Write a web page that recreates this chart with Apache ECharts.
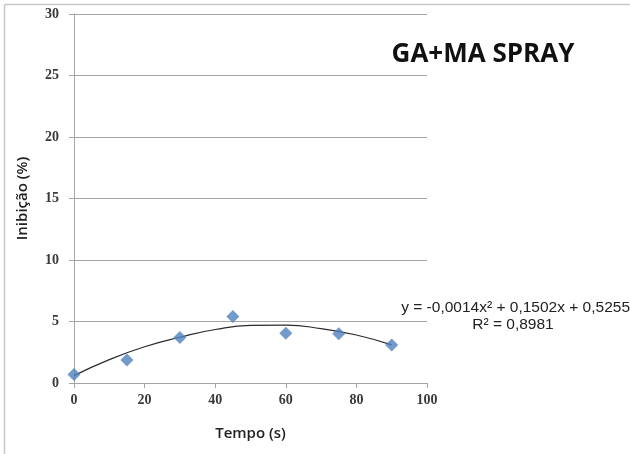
<!DOCTYPE html>
<html>
<head>
<meta charset="utf-8">
<script src="https://cdn.jsdelivr.net/npm/echarts@6/dist/echarts.min.js"></script>
<style>html,body{margin:0;padding:0;background:#fff}#c{width:630px;height:454px}</style>
</head>
<body>
<div id="c"></div>
<script>
// Data
var tempo = [0, 15, 30, 45, 60, 75, 90];
var inibicao = [0.7, 1.87, 3.7, 5.4, 4.04, 4.0, 3.09];
// Trend line as drawn in the picture (sampled by eye)
var trendX = [0, 10, 20, 30, 40, 50, 60, 70, 80, 90];
var trendY = [0.6, 1.9, 2.95, 3.72, 4.35, 4.68, 4.7, 4.42, 3.9, 3.1];
var yTicks = [0, 5, 10, 15, 20, 25, 30];
var xTicks = [0, 20, 40, 60, 80, 100];
var titleText = 'GA+MA SPRAY';
var eqText = 'y = -0,0014x\u00B2 + 0,1502x + 0,5255';
var r2Text = 'R\u00B2 = 0,8981';

var chart = echarts.init(document.getElementById('c'), null, {renderer: 'canvas'});
var pts = tempo.map(function (x, i) { return [x, inibicao[i]]; });
var trend = trendX.map(function (x, i) { return [x, trendY[i]]; });
var tickFont = {fontFamily: 'Liberation Serif', fontWeight: 'bold', fontSize: 14, color: '#3a3a3a'};
var nameFont = {fontFamily: 'Open Sans', fontWeight: 600, fontSize: 15, color: '#222'};
chart.setOption({
  animation: false,
  backgroundColor: '#fff',
  grid: {left: 74, right: 203, top: 14, bottom: 71},
  xAxis: {
    type: 'value', min: 0, max: 100, interval: 20,
    name: 'Tempo (s)', nameLocation: 'middle', nameGap: 43,
    nameTextStyle: nameFont,
    axisLine: {show: true, lineStyle: {color: '#a6a6a6', width: 1}},
    axisTick: {show: true, length: 5, inside: false, lineStyle: {color: '#a6a6a6'}},
    axisLabel: Object.assign({margin: 10}, tickFont),
    splitLine: {show: false}
  },
  yAxis: {
    type: 'value', min: 0, max: 30, interval: 5,
    name: 'Inibição (%)', nameLocation: 'middle', nameGap: 44, nameRotate: 90,
    nameTextStyle: nameFont,
    axisLine: {show: true, lineStyle: {color: '#a6a6a6', width: 1}},
    axisTick: {show: true, length: 5, inside: false, lineStyle: {color: '#a6a6a6'}},
    axisLabel: Object.assign({margin: 15}, tickFont),
    splitLine: {show: true, lineStyle: {color: '#a6a6a6', width: 1}}
  },
  series: [
    {
      type: 'line', data: trend, smooth: 0.5, symbol: 'none',
      lineStyle: {color: '#2b2b2b', width: 1.2}, z: 2
    },
    {
      type: 'scatter', data: pts, symbol: 'diamond', symbolSize: 13,
      itemStyle: {color: '#4f81bd'}, z: 3
    }
  ],
  graphic: [
    {type: 'line', shape: {x1: 4.5, y1: 4.5, x2: 630, y2: 4.5}, style: {stroke: '#c8c8c8', lineWidth: 1.5}},
    {type: 'line', shape: {x1: 4.5, y1: 4.5, x2: 4.5, y2: 454}, style: {stroke: '#c8c8c8', lineWidth: 1.5}},
    {type: 'text', x: 483, y: 55, style: {text: titleText, font: 'bold 26px "Open Sans"', fill: '#111', textAlign: 'center', textVerticalAlign: 'middle'}},
    {type: 'text', x: 630, y: 308, style: {text: eqText, font: '15.5px "Liberation Sans"', fill: '#222', textAlign: 'right', textVerticalAlign: 'middle'}},
    {type: 'text', x: 513, y: 325, style: {text: r2Text, font: '15.5px "Liberation Sans"', fill: '#222', textAlign: 'center', textVerticalAlign: 'middle'}}
  ]
});
</script>
</body>
</html>
